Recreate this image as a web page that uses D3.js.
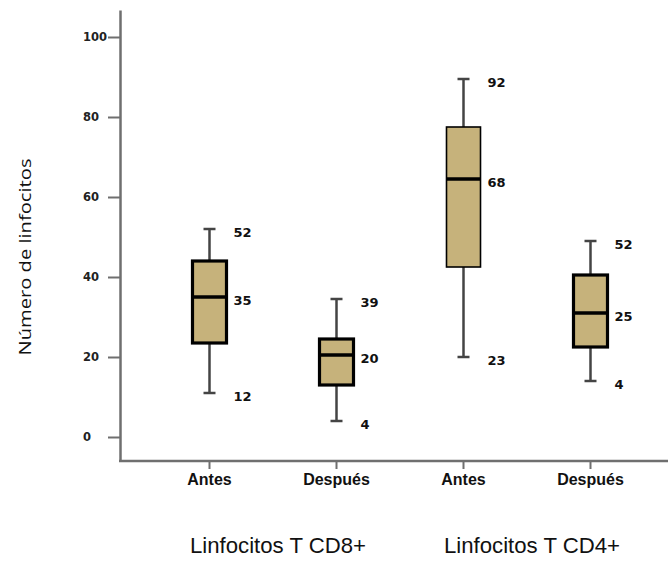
<!DOCTYPE html>
<html>
<head>
<meta charset="utf-8">
<script src="https://cdn.jsdelivr.net/npm/d3@7"></script>
<style>
  body { margin: 0; background: #fff; }
  svg { display: block; }
</style>
</head>
<body>
<div id="chart"></div>
<script>
//Data
var categories = ["Antes", "Después", "Antes", "Después"];
var groups = ["Linfocitos T CD8+", "Linfocitos T CD4+"];
var whiskerLow = [11, 4, 20, 14];
var q1 = [23.5, 13, 42.5, 22.5];
var median = [35, 20.5, 64.5, 31];
var q3 = [44, 24.5, 77.5, 40.5];
var whiskerHigh = [52, 34.5, 89.5, 49];
var labelHigh = ["52", "39", "92", "52"];
var labelMid = ["35", "20", "68", "25"];
var labelLow = ["12", "4", "23", "4"];
var yTicks = [0, 20, 40, 60, 80, 100];

//Constants for the SVG
var width = 668,
  height = 561;

var boxFill = "#c6b27b";
var axisColor = "#6f6f6f";
var boxStroke = [3.2, 3.2, 1.6, 3.2];

var svg = d3
  .select("#chart")
  .append("svg")
  .attr("width", width)
  .attr("height", height);

var x = d3
  .scaleBand()
  .domain(d3.range(categories.length))
  .range([146, 654]);

var y = d3.scaleLinear().domain([-6, 106.75]).range([461, 10]);

var boxWidth = 34;

//y axis
var yAxis = svg
  .append("g")
  .attr("transform", "translate(120,0)")
  .call(d3.axisLeft(y).tickValues(yTicks).tickSize(12).tickSizeOuter(0));

yAxis.select(".domain").attr("stroke", axisColor).attr("stroke-width", 2.5);
yAxis.selectAll(".tick line").attr("stroke", axisColor).attr("stroke-width", 2);
yAxis
  .selectAll(".tick text")
  .attr("x", -37)
  .attr("text-anchor", "start")
  .attr("fill", "#222")
  .style("font-family", "DejaVu Sans")
  .style("font-weight", "bold")
  .style("font-size", "11.5px");

//x axis
var xAxis = svg
  .append("g")
  .attr("transform", "translate(0,461)")
  .call(
    d3
      .axisBottom(x)
      .tickSize(8)
      .tickPadding(5)
      .tickFormat(function (d) {
        return categories[d];
      })
  );

xAxis.select(".domain").remove();
xAxis.selectAll(".tick line").attr("stroke", axisColor).attr("stroke-width", 2);
xAxis
  .selectAll(".tick text")
  .attr("fill", "#111")
  .style("font-family", "Liberation Sans")
  .style("font-weight", "bold")
  .style("font-size", "16px");

svg
  .append("line")
  .attr("x1", 119)
  .attr("x2", width)
  .attr("y1", 461)
  .attr("y2", 461)
  .attr("stroke", axisColor)
  .attr("stroke-width", 2.5);

//boxes
var box = svg
  .append("g")
  .selectAll("g")
  .data(d3.range(categories.length))
  .enter()
  .append("g")
  .attr("transform", function (d) {
    return "translate(" + (x(d) + x.bandwidth() / 2) + ",0)";
  });

box
  .append("line")
  .attr("x1", 0)
  .attr("x2", 0)
  .attr("y1", function (d) {
    return y(whiskerLow[d]);
  })
  .attr("y2", function (d) {
    return y(whiskerHigh[d]);
  })
  .attr("stroke", "#444")
  .attr("stroke-width", 2.5);

box
  .selectAll(".cap")
  .data(function (d) {
    return [whiskerLow[d], whiskerHigh[d]];
  })
  .enter()
  .append("line")
  .attr("class", "cap")
  .attr("x1", -6)
  .attr("x2", 6)
  .attr("y1", function (v) {
    return y(v);
  })
  .attr("y2", function (v) {
    return y(v);
  })
  .attr("stroke", "#444")
  .attr("stroke-width", 2.5);

box
  .append("rect")
  .attr("x", -boxWidth / 2)
  .attr("width", boxWidth)
  .attr("y", function (d) {
    return y(q3[d]);
  })
  .attr("height", function (d) {
    return y(q1[d]) - y(q3[d]);
  })
  .attr("fill", boxFill)
  .attr("stroke", "#000")
  .attr("stroke-width", function (d) {
    return boxStroke[d];
  });

box
  .append("line")
  .attr("x1", -boxWidth / 2)
  .attr("x2", boxWidth / 2)
  .attr("y1", function (d) {
    return y(median[d]);
  })
  .attr("y2", function (d) {
    return y(median[d]);
  })
  .attr("stroke", "#000")
  .attr("stroke-width", 3.5);

//value labels
var labelRows = [
  { values: whiskerHigh, text: labelHigh },
  { values: median, text: labelMid },
  { values: whiskerLow, text: labelLow },
];

labelRows.forEach(function (row) {
  box
    .append("text")
    .attr("x", 24)
    .attr("y", function (d) {
      return y(row.values[d]) + 3;
    })
    .attr("dy", "0.35em")
    .text(function (d) {
      return row.text[d];
    })
    .attr("fill", "#111")
    .style("font-family", "DejaVu Sans")
    .style("font-weight", "bold")
    .style("font-size", "13px");
});

//group labels
svg
  .append("g")
  .selectAll("text")
  .data(groups)
  .enter()
  .append("text")
  .attr("x", function (d, i) {
    return (x(i * 2) + x(i * 2 + 1)) / 2 + x.bandwidth() / 2 + 5;
  })
  .attr("y", 553)
  .attr("text-anchor", "middle")
  .attr("textLength", 176)
  .attr("lengthAdjust", "spacingAndGlyphs")
  .attr("fill", "#111")
  .style("font-family", "Liberation Sans")
  .style("font-size", "22px")
  .text(function (d) {
    return d;
  });

//y title
svg
  .append("text")
  .attr("transform", "translate(31,257) rotate(-90)")
  .attr("text-anchor", "middle")
  .attr("textLength", 197)
  .attr("lengthAdjust", "spacingAndGlyphs")
  .attr("fill", "#111")
  .style("font-family", "Open Sans")
  .style("font-size", "17px")
  .text("Número de linfocitos");
</script>
</body>
</html>
